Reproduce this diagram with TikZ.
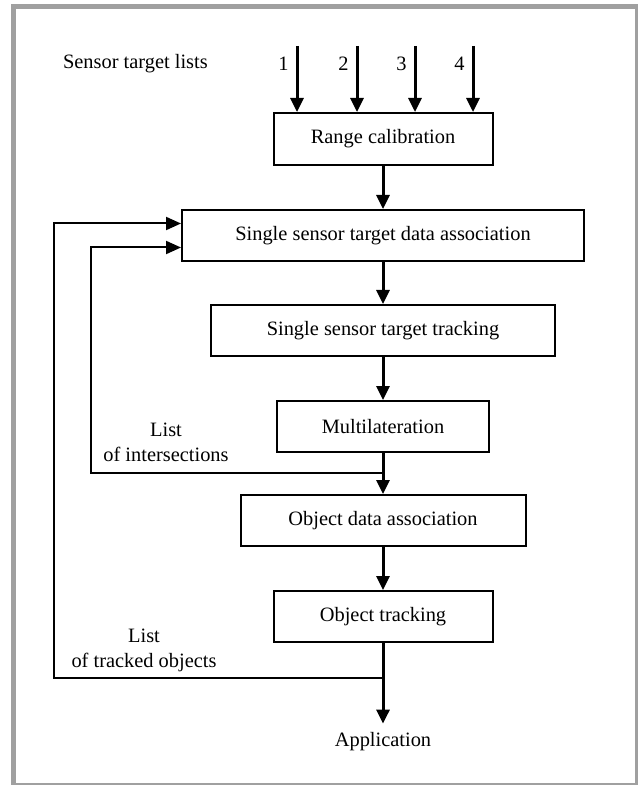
\documentclass[tikz,border=0pt]{standalone}
\usepackage{fontspec}
\setmainfont{Liberation Serif}
\usetikzlibrary{positioning,arrows.meta}
\definecolor{framegray}{RGB}{160,160,160}
\tikzset{blk/.style={draw,line width=1pt,rectangle,inner sep=0pt,minimum height=25.5pt}}
\tikzset{flow/.style={line width=1.5pt,-{Triangle[length=7pt,width=6.5pt]}}}
\tikzset{fb/.style={line width=1pt,-{Triangle[length=7.5pt,width=6.5pt]}}}
\tikzset{txt/.style={inner sep=0pt,align=center}}

\begin{document}
\begin{tikzpicture}[font=\fontsize{10.2pt}{12.5pt}\selectfont]
        \useasboundingbox (0,0) rectangle (318.5pt,-392.5pt);
        \draw[framegray, line width=2.5pt] (6.75pt,-3.25pt) rectangle (318.75pt,-392.75pt);
        \node[blk, minimum width=109.5pt, minimum height=26pt] (rc) at (191.5pt,-69.5pt) {Range calibration};
        \foreach \i/\dx in {1/-43,2/-13,3/16,4/45}{
            \coordinate (src\i) at ([xshift=\dx pt, yshift=33pt]rc.north);
            \draw[flow] (src\i) -- node[left, pos=0.27, inner sep=3.5pt] (n\i) {\i} (src\i |- rc.north);
        }
        \node (lists) [left=27.5pt of n1] {Sensor target lists};
        \node[blk, minimum width=201pt] (sstda) [below=21.5pt of rc] {Single sensor target data association};
        \node[blk, minimum width=172pt] (sstt) [below=21pt of sstda] {Single sensor target tracking};
        \node[blk, minimum width=106pt] (ml) [below=21.5pt of sstt] {Multilateration};
        \node[blk, minimum width=142.5pt] (oda) [below=20.5pt of ml] {Object data association};
        \node[blk, minimum width=109.5pt] (ot) [below=21.5pt of oda] {Object tracking};
        \node[txt, inner sep=4pt] (app) [below=40.3pt of ot] {Application};
        \draw[flow] (rc) -- (sstda);
        \draw[flow] (sstda) -- (sstt);
        \draw[flow] (sstt) -- (ml);
        \draw[flow] (ml) -- (oda);
        \draw[flow] (oda) -- (ot);
        \draw[flow] (ot) -- (app);
%        feedback loops
        \coordinate[below=10pt of ml] (tap1);
        \coordinate[below=17.5pt of ot] (tap2);
        \coordinate (fb1) at ([yshift=-6pt]sstda.west);
        \coordinate (fb2) at ([yshift=6pt]sstda.west);
        \draw[fb] (tap1) -| ([xshift=-45pt]fb1) -- (fb1);
        \draw[fb] (tap2) -| ([xshift=-63.5pt]fb2) -- (fb2);
        \node[txt] (lint) at ([shift={(-108.5pt,15.5pt)}]tap1) {List\\of intersections};
        \node[txt] (ltrk) at ([shift={(-119.5pt,14pt)}]tap2) {List\\of tracked objects};
\end{tikzpicture}
\end{document}
